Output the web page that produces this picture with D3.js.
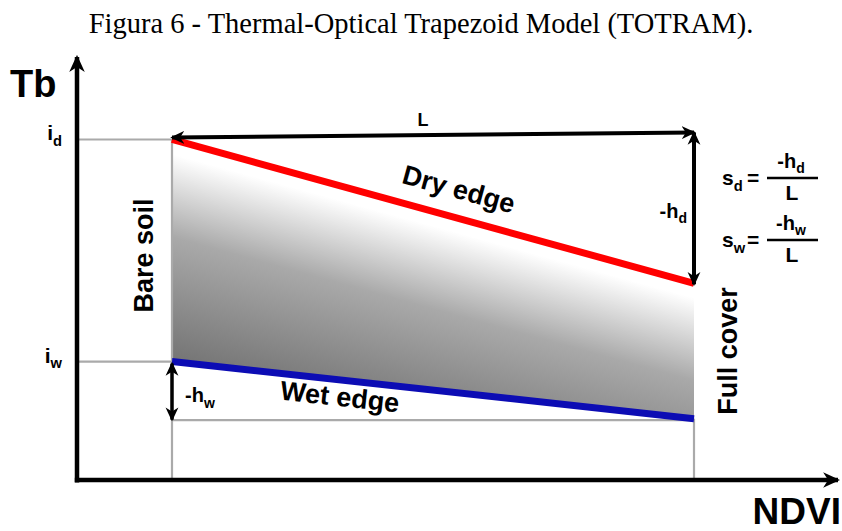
<!DOCTYPE html>
<html>
<head>
<meta charset="utf-8">
<script src="https://cdn.jsdelivr.net/npm/d3@7"></script>
<style>
  html, body { margin: 0; padding: 0; background: #fff; }
  svg { display: block; }
</style>
</head>
<body>
<svg id="chart" width="842" height="531"></svg>
<script>
// NDVI limits of the trapezoid: bare soil and full cover
const ndviLimits = [0, 1];
// Surface temperature (arbitrary units) at each NDVI limit
const dryEdgeTb = [80.5, 46.5];
const wetEdgeTb = [28, 14.5];
const tbDomain = [0, 100];
const edgeLabels = ["Dry edge", "Wet edge"];
const limitLabels = ["Bare soil", "Full cover"];
const axisTitles = ["NDVI", "Tb"];
const title = "Figura 6 - Thermal-Optical Trapezoid Model (TOTRAM).";

const svg = d3.select("#chart");
const originX = 77;
const axisRight = 838;

const x = d3.scaleLinear().domain(ndviLimits).range([172, 694]);
const y = d3.scaleLinear().domain(tbDomain).range([480, 57]);
const originY = y(0);

const font = "Arial, 'Liberation Sans', Helvetica, sans-serif";
const gray = "#aaaaaa";

const defs = svg.append("defs");

// barbed arrowheads
function marker(id, size) {
  defs.append("marker")
    .attr("id", id)
    .attr("viewBox", "0 0 12 12")
    .attr("refX", 10.5).attr("refY", 6)
    .attr("markerUnits", "userSpaceOnUse")
    .attr("markerWidth", size).attr("markerHeight", size)
    .attr("orient", "auto-start-reverse")
    .append("path")
    .attr("d", "M0,0.5 L12,6 L0,11.5 L3.5,6 Z")
    .attr("fill", "#000");
}
marker("axisArrow", 17);
marker("dimArrow", 14);

// shading: white along the dry edge, darkening towards the wet edge
const p0 = [x(ndviLimits[0]), y(dryEdgeTb[0])];
const p1 = [x(ndviLimits[1]), y(dryEdgeTb[1])];
const len = Math.hypot(p1[0] - p0[0], p1[1] - p0[1]);
const n = [-(p1[1] - p0[1]) / len, (p1[0] - p0[0]) / len];
const wetLeft = [x(ndviLimits[0]), y(wetEdgeTb[0])];
const depth = (wetLeft[0] - p0[0]) * n[0] + (wetLeft[1] - p0[1]) * n[1];
const grad = defs.append("linearGradient")
  .attr("id", "shade")
  .attr("gradientUnits", "userSpaceOnUse")
  .attr("x1", p0[0] + n[0] * 14).attr("y1", p0[1] + n[1] * 14)
  .attr("x2", p0[0] + n[0] * depth).attr("y2", p0[1] + n[1] * depth);
grad.append("stop").attr("offset", 0).attr("stop-color", "#ffffff");
grad.append("stop").attr("offset", 0.4).attr("stop-color", "#a9a9a9");
grad.append("stop").attr("offset", 1).attr("stop-color", "#747474");

// title
svg.append("text")
  .attr("x", 421).attr("y", 33)
  .attr("text-anchor", "middle")
  .attr("font-family", "'Liberation Serif', 'Times New Roman', serif")
  .attr("font-size", 28.5)
  .attr("fill", "#000")
  .text(title);

// trapezoid fill
const trap = [
  [ndviLimits[0], dryEdgeTb[0]],
  [ndviLimits[1], dryEdgeTb[1]],
  [ndviLimits[1], wetEdgeTb[1]],
  [ndviLimits[0], wetEdgeTb[0]]
];
svg.append("path")
  .attr("d", d3.line().x(d => x(d[0])).y(d => y(d[1]))(trap) + "Z")
  .attr("fill", "url(#shade)");

// gray guide lines
const guides = [
  [[originX, y(dryEdgeTb[0])], [x(ndviLimits[0]), y(dryEdgeTb[0])]],
  [[originX, y(wetEdgeTb[0])], [x(ndviLimits[0]), y(wetEdgeTb[0])]],
  [[x(ndviLimits[0]), y(dryEdgeTb[0])], [x(ndviLimits[0]), originY]],
  [[x(ndviLimits[1]), y(wetEdgeTb[1])], [x(ndviLimits[1]), originY]],
  [[x(ndviLimits[0]), y(wetEdgeTb[1]) + 1.5], [x(ndviLimits[1]), y(wetEdgeTb[1]) + 1.5]]
];
svg.selectAll("line.guide").data(guides).enter().append("line")
  .attr("class", "guide")
  .attr("x1", d => d[0][0]).attr("y1", d => d[0][1])
  .attr("x2", d => d[1][0]).attr("y2", d => d[1][1])
  .attr("stroke", gray).attr("stroke-width", 2.2);

// dry and wet edges
const edges = [
  { name: edgeLabels[0], tb: dryEdgeTb, color: "#ff0000" },
  { name: edgeLabels[1], tb: wetEdgeTb, color: "#0c0cb4" }
];
svg.selectAll("line.edge").data(edges).enter().append("line")
  .attr("class", "edge")
  .attr("x1", x(ndviLimits[0])).attr("y1", d => y(d.tb[0]))
  .attr("x2", x(ndviLimits[1])).attr("y2", d => y(d.tb[1]))
  .attr("stroke", d => d.color).attr("stroke-width", 7);

// edge labels, rotated along each edge
const labelPos = [{ t: 0.535, off: -19 }, { t: 0.325, off: 26 }];
edges.forEach((e, i) => {
  const t = labelPos[i].t;
  const nd = ndviLimits[0] + t * (ndviLimits[1] - ndviLimits[0]);
  const tb = e.tb[0] + t * (e.tb[1] - e.tb[0]);
  const ang = Math.atan2(y(e.tb[1]) - y(e.tb[0]), x(ndviLimits[1]) - x(ndviLimits[0])) * 180 / Math.PI;
  svg.append("text")
    .attr("transform", `translate(${x(nd)},${y(tb)}) rotate(${ang})`)
    .attr("y", labelPos[i].off)
    .attr("text-anchor", "middle")
    .attr("font-family", font).attr("font-weight", "bold")
    .attr("font-size", 27)
    .text(e.name);
});

// limit labels (vertical)
svg.append("text")
  .attr("transform", `translate(${x(ndviLimits[0]) - 19},${(y(dryEdgeTb[0]) + y(wetEdgeTb[0])) / 2 + 5}) rotate(-90)`)
  .attr("text-anchor", "middle")
  .attr("font-family", font).attr("font-weight", "bold").attr("font-size", 27)
  .text(limitLabels[0]);
svg.append("text")
  .attr("transform", `translate(${x(ndviLimits[1]) + 43},${(y(dryEdgeTb[1]) + y(wetEdgeTb[1])) / 2}) rotate(-90)`)
  .attr("text-anchor", "middle")
  .attr("font-family", font).attr("font-weight", "bold").attr("font-size", 27)
  .text(limitLabels[1]);

// axes
svg.append("line")
  .attr("x1", originX).attr("y1", originY + 2.5)
  .attr("x2", originX).attr("y2", y(tbDomain[1]))
  .attr("stroke", "#000").attr("stroke-width", 4.5)
  .attr("marker-end", "url(#axisArrow)");
svg.append("line")
  .attr("x1", originX - 2.2).attr("y1", originY)
  .attr("x2", axisRight).attr("y2", originY)
  .attr("stroke", "#000").attr("stroke-width", 4.5)
  .attr("marker-end", "url(#axisArrow)");

svg.append("text")
  .attr("x", 10).attr("y", 97)
  .attr("font-family", font).attr("font-weight", "bold").attr("font-size", 38)
  .text(axisTitles[1]);
svg.append("text")
  .attr("x", 841).attr("y", 524)
  .attr("text-anchor", "end")
  .attr("font-family", font).attr("font-weight", "bold").attr("font-size", 37)
  .text(axisTitles[0]);

// subscripted label helper
function subLabel(px, py, main, sub, size, anchor) {
  const t = svg.append("text")
    .attr("x", px).attr("y", py)
    .attr("text-anchor", anchor || "start")
    .attr("font-family", font).attr("font-weight", "bold")
    .attr("font-size", size);
  t.append("tspan").text(main);
  t.append("tspan").attr("font-size", size * 0.7).attr("dy", size * 0.27).text(sub);
  return t;
}

// intercepts on the Tb axis
subLabel(originX - 15, y(dryEdgeTb[0]) + 1, "i", "d", 21, "end");
subLabel(originX - 15, y(wetEdgeTb[0]) + 1, "i", "w", 21, "end");

// L dimension arrow
const yL0 = y(dryEdgeTb[0]) - 2, yL1 = y(dryEdgeTb[0]) - 7;
svg.append("line")
  .attr("x1", x(ndviLimits[0])).attr("y1", yL0)
  .attr("x2", x(ndviLimits[1])).attr("y2", yL1)
  .attr("stroke", "#000").attr("stroke-width", 4)
  .attr("marker-start", "url(#dimArrow)").attr("marker-end", "url(#dimArrow)");
svg.append("text")
  .attr("x", (x(ndviLimits[0]) + x(ndviLimits[1])) / 2 - 10).attr("y", 126)
  .attr("text-anchor", "middle")
  .attr("font-family", font).attr("font-weight", "bold").attr("font-size", 18)
  .text("L");

// -h_d dimension arrow
svg.append("line")
  .attr("x1", x(ndviLimits[1])).attr("y1", yL1)
  .attr("x2", x(ndviLimits[1])).attr("y2", y(dryEdgeTb[1]) + 1)
  .attr("stroke", "#000").attr("stroke-width", 4)
  .attr("marker-start", "url(#dimArrow)").attr("marker-end", "url(#dimArrow)");
subLabel(x(ndviLimits[1]) - 7, (yL1 + y(dryEdgeTb[1])) / 2 + 10, "-h", "d", 20, "end");

// -h_w dimension arrow
svg.append("line")
  .attr("x1", x(ndviLimits[0])).attr("y1", y(wetEdgeTb[0]) + 2)
  .attr("x2", x(ndviLimits[0])).attr("y2", y(wetEdgeTb[1]) + 1)
  .attr("stroke", "#000").attr("stroke-width", 3.5)
  .attr("marker-start", "url(#dimArrow)").attr("marker-end", "url(#dimArrow)");
subLabel(x(ndviLimits[0]) + 13, (y(wetEdgeTb[0]) + y(wetEdgeTb[1])) / 2 + 12, "-h", "w", 20, "start");

// slope formulas
const formulas = [
  { s: "d", yBase: 185, lineY: 178 },
  { s: "w", yBase: 247, lineY: 240 }
];
formulas.forEach(f => {
  subLabel(722, f.yBase, "s", f.s, 21, "start");
  svg.append("text")
    .attr("x", 747).attr("y", f.yBase)
    .attr("font-family", font).attr("font-weight", "bold").attr("font-size", 21)
    .text("=");
  svg.append("line")
    .attr("x1", 767).attr("x2", 818)
    .attr("y1", f.lineY).attr("y2", f.lineY)
    .attr("stroke", "#000").attr("stroke-width", 2.5);
  subLabel(791, f.lineY - 10, "-h", f.s, 20, "middle");
  svg.append("text")
    .attr("x", 792).attr("y", f.lineY + 22)
    .attr("text-anchor", "middle")
    .attr("font-family", font).attr("font-weight", "bold").attr("font-size", 21)
    .text("L");
});
</script>
</body>
</html>
